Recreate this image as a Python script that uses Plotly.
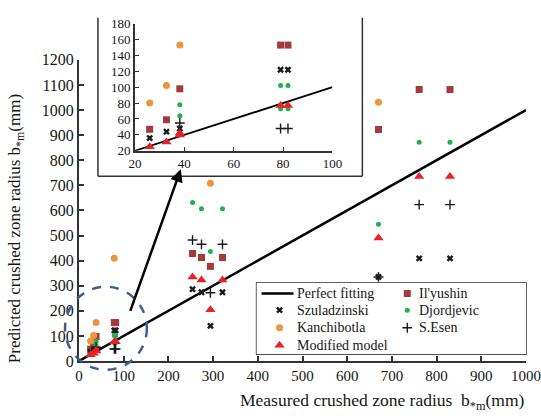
import plotly.graph_objects as go

# ---------------- data ----------------
fit_x = [0, 1000]
fit_y = [0, 1000]
fit_x_inset = [20, 100]
fit_y_inset = [20, 100]

ily_x = [26, 32.8, 38.2, 79, 82, 254, 274, 294, 321, 670, 761, 830]
ily_y = [47, 59, 98, 153, 153, 428, 412, 377, 412, 922, 1082, 1082]

szu_x = [26, 32.8, 38.2, 79, 82, 254, 274, 294, 321, 670, 761, 830]
szu_y = [36, 44, 48, 122, 122, 286, 274, 140, 274, 335, 409, 409]

djo_x = [38.2, 38.2, 79, 82, 79, 82, 254, 274, 294, 321, 670, 761, 830]
djo_y = [78, 64, 102, 102, 73, 73, 632, 607, 436, 607, 545, 872, 872]

kan_x = [26, 32.8, 38.2, 79, 294, 670]
kan_y = [80, 102, 153, 409, 708, 1031]

ese_x = [38.2, 79, 82, 254, 274, 294, 321, 670, 761, 830]
ese_y = [55, 48, 48, 482, 465, 272, 465, 335, 623, 623]

mod_x = [26, 32.8, 38.2, 38.2, 79, 82, 254, 274, 294, 321, 670, 761, 830]
mod_y = [25, 31, 42, 40, 77, 77, 335, 323, 204, 323, 490, 735, 735]

x_ticks = [0, 100, 200, 300, 400, 500, 600, 700, 800, 900, 1000]
y_ticks = [0, 100, 200, 300, 400, 500, 600, 700, 800, 900, 1000, 1100, 1200]
xi_ticks = [20, 40, 60, 80, 100]
yi_ticks = [20, 40, 60, 80, 100, 120, 140, 160, 180]

# legend layout (two columns, as in the reference)
legend_col1 = ["Perfect fitting", "Szuladzinski", "Kanchibotla", "Modified model"]
legend_col2 = ["Il'yushin", "Djordjevic", "S.Esen"]

# ---------------- styles ----------------
FONT = "Liberation Serif, Times New Roman, DejaVu Serif, serif"
INK = "#151515"
styles = {
    "Il'yushin": dict(symbol="square", size=7, color="#A23B3C"),
    "Szuladzinski": dict(symbol="x", size=6, color="#1a1a1a"),
    "Djordjevic": dict(symbol="circle", size=5, color="#22B04B"),
    "Kanchibotla": dict(symbol="circle", size=7, color="#EE9440"),
    "S.Esen": dict(symbol="cross-thin", size=7, color="#1a1a1a",
                   line=dict(width=1.4, color="#1a1a1a")),
    "Modified model": dict(symbol="triangle-up", size=9, color="#E8202A"),
}
series = [
    ("Il'yushin", ily_x, ily_y),
    ("Szuladzinski", szu_x, szu_y),
    ("Djordjevic", djo_x, djo_y),
    ("Kanchibotla", kan_x, kan_y),
    ("S.Esen", ese_x, ese_y),
    ("Modified model", mod_x, mod_y),
]

# pixel -> paper helpers (plot area: l=79, r=14, t=0, b=58 in a 541x419 page)
L, R, T, B, W, H = 79, 14, 0, 58, 541, 419
PW, PH = W - L - R, H - T - B
def px(xp):
    return (xp - L) / PW
def py(yp):
    return (H - B - yp) / PH

fig = go.Figure()

# perfect fitting line
fig.add_trace(go.Scatter(x=fit_x, y=fit_y, mode="lines", name="Perfect fitting",
                         line=dict(color="black", width=2.5), xaxis="x", yaxis="y"))
fig.add_trace(go.Scatter(x=fit_x_inset, y=fit_y_inset, mode="lines",
                         line=dict(color="black", width=1.8), xaxis="x2", yaxis="y2"))

for name, xs, ys in series:
    st = styles[name]
    fig.add_trace(go.Scatter(x=xs, y=ys, mode="markers", name=name, marker=st,
                             xaxis="x", yaxis="y"))
    inx = [a for a, b in zip(xs, ys) if 20 <= a <= 100 and 20 <= b <= 180]
    iny = [b for a, b in zip(xs, ys) if 20 <= a <= 100 and 20 <= b <= 180]
    fig.add_trace(go.Scatter(x=inx, y=iny, mode="markers", marker=st,
                             xaxis="x2", yaxis="y2", cliponaxis=False))

# ---- legend (drawn on its own small axis, box units in px) ----
row_y = [11, 28, 46, 64]
col1_key, col1_txt = 23, 38
col2_key, col2_txt = 151, 161
annotations = []
fig.add_trace(go.Scatter(x=[5, 37], y=[row_y[0], row_y[0]], mode="lines",
                         line=dict(color="black", width=2.5), xaxis="x3", yaxis="y3"))
for i, name in enumerate(legend_col1):
    if name in styles:
        fig.add_trace(go.Scatter(x=[col1_key], y=[row_y[i]], mode="markers",
                                 marker=styles[name], xaxis="x3", yaxis="y3"))
    annotations.append(dict(xref="x3", yref="y3", x=col1_txt, y=row_y[i], text=name,
                            showarrow=False, xanchor="left", yanchor="middle",
                            font=dict(family=FONT, size=14, color=INK)))
for i, name in enumerate(legend_col2):
    fig.add_trace(go.Scatter(x=[col2_key], y=[row_y[i]], mode="markers",
                             marker=styles[name], xaxis="x3", yaxis="y3"))
    annotations.append(dict(xref="x3", yref="y3", x=col2_txt, y=row_y[i], text=name,
                            showarrow=False, xanchor="left", yanchor="middle",
                            font=dict(family=FONT, size=14, color=INK)))

xaxis_font = dict(family=FONT, size=15, color=INK)
yaxis_font = dict(family=FONT, size=16, color=INK)
inset_font = dict(family=FONT, size=13, color=INK)

fig.update_layout(
    width=W, height=H,
    margin=dict(l=L, r=R, t=T, b=B),
    paper_bgcolor="white", plot_bgcolor="white",
    font=dict(family=FONT, size=14, color=INK),
    showlegend=False,
    xaxis=dict(domain=[0, 1], range=[0, 1000], tickvals=x_ticks, showgrid=False,
               zeroline=False, showline=True, linecolor="#333", linewidth=2,
               ticks="inside", ticklen=5, tickwidth=1.5, tickcolor="#333",
               tickfont=xaxis_font, anchor="y", ticklabeloverflow="allow"),
    yaxis=dict(domain=[0, py(53)], range=[0, 1200], tickvals=y_ticks, showgrid=False,
               zeroline=False, showline=True, linecolor="#333", linewidth=2,
               ticks="inside", ticklen=5, tickwidth=1.5, tickcolor="#333",
               tickfont=yaxis_font, anchor="x", ticklabeloverflow="allow"),
    xaxis2=dict(domain=[px(135), px(333)], range=[20, 100], tickvals=xi_ticks,
                showgrid=False, zeroline=False, showline=True, linecolor="#333",
                linewidth=1.5, ticks="inside", ticklen=4, tickcolor="#333",
                tickfont=inset_font, anchor="y2", ticklabeloverflow="allow"),
    yaxis2=dict(domain=[py(146), py(16)], range=[20, 180], tickvals=yi_ticks,
                showgrid=False, zeroline=False, showline=True, linecolor="#333",
                linewidth=1.5, ticks="inside", ticklen=4, tickcolor="#333",
                tickfont=inset_font, anchor="x2", ticklabeloverflow="allow"),
    xaxis3=dict(domain=[px(257), px(527)], range=[0, 270], visible=False,
                anchor="y3", fixedrange=True),
    yaxis3=dict(domain=[py(354), py(281)], range=[73, 0], visible=False,
                anchor="x3", fixedrange=True),
)

shapes = [
    # legend box
    dict(type="rect", xref="paper", yref="paper", x0=px(257), x1=px(527),
         y0=py(354), y1=py(281), line=dict(color="#333", width=1.5),
         fillcolor="white", layer="below"),
    # inset box (left, bottom, right)
    dict(type="line", xref="paper", yref="paper", x0=px(98), x1=px(98),
         y0=py(172), y1=py(10), line=dict(color="#333", width=1.5)),
    dict(type="line", xref="paper", yref="paper", x0=px(98), x1=px(363),
         y0=py(172), y1=py(172), line=dict(color="#333", width=1.5)),
    dict(type="line", xref="paper", yref="paper", x0=px(363), x1=px(363),
         y0=py(172), y1=py(10), line=dict(color="#333", width=1.5)),
    # dashed ellipse
    dict(type="circle", xref="paper", yref="paper", x0=px(65), x1=px(147),
         y0=py(370), y1=py(285), line=dict(color="#3E5F8E", width=2.5, dash="dash")),
]

annotations += [
    dict(xref="paper", yref="paper", x=px(181), y=py(165), ax=-51, ay=143,
         text="", showarrow=True, arrowhead=2, arrowsize=1, arrowwidth=2.5,
         arrowcolor="black"),
    dict(xref="paper", yref="paper", x=px(383), y=py(402), showarrow=False,
         text="Measured crushed zone radius  b<sub>*m</sub>(mm)",
         font=dict(family=FONT, size=17.5, color=INK), xanchor="center",
         yanchor="middle"),
    dict(xref="paper", yref="paper", x=px(16), y=py(226), showarrow=False,
         textangle=-90,
         text="Predicted crushed zone radius b<sub>*m</sub>(mm)",
         font=dict(family=FONT, size=17, color=INK), xanchor="center",
         yanchor="middle"),
]
fig.update_layout(shapes=shapes, annotations=annotations)

fig.write_html("out.html")
